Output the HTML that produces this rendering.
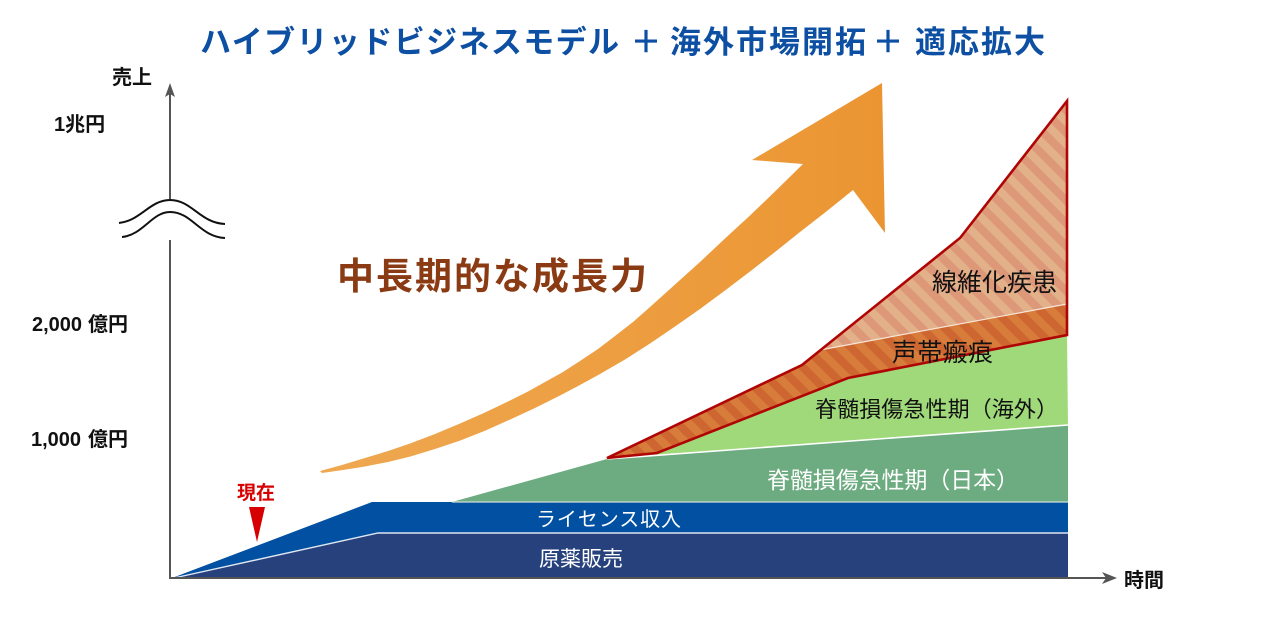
<!DOCTYPE html>
<html>
<head>
<meta charset="utf-8">
<style>
  html,body{margin:0;padding:0;background:#fff;}
  svg{display:block;}
  text{font-family:"Liberation Sans","Noto Sans CJK JP",sans-serif;}
</style>
</head>
<body>
<svg width="1272" height="626" viewBox="0 0 1272 626" xmlns="http://www.w3.org/2000/svg">
  <defs>
    <linearGradient id="arrowG" x1="320" y1="0" x2="885" y2="0" gradientUnits="userSpaceOnUse">
      <stop offset="0" stop-color="#efa851"/>
      <stop offset="1" stop-color="#eb9532"/>
    </linearGradient>
    <pattern id="stripeDark" width="16" height="16" patternUnits="userSpaceOnUse" patternTransform="rotate(-45)">
      <rect width="16" height="16" fill="#d77c3a"/>
      <rect width="8" height="16" fill="#cd6631"/>
    </pattern>
    <pattern id="stripeLight" width="16" height="16" patternUnits="userSpaceOnUse" patternTransform="rotate(-45)">
      <rect width="16" height="16" fill="#e2b189"/>
      <rect width="8" height="16" fill="#dd9779"/>
    </pattern>
  </defs>

  <rect width="1272" height="626" fill="#fff"/>

  <!-- Title -->
  <g fill="#0d4fa3" font-size="31" font-weight="bold">
    <text x="200" y="53" textLength="419" lengthAdjust="spacing">ハイブリッドビジネスモデル</text>
    <text x="646" y="53" text-anchor="middle">＋</text>
    <text x="670" y="53" textLength="196" lengthAdjust="spacing">海外市場開拓</text>
    <text x="888" y="53" text-anchor="middle">＋</text>
    <text x="915" y="53" textLength="130" lengthAdjust="spacing">適応拡大</text>
  </g>

  <!-- Orange growth arrow -->
  <polygon fill="url(#arrowG)" points="
    320,471 342,465 365,458 388,451 410,443.5 435,434 460,423.5 485,412.5 510,400.5
    528,391.5 545,382 563,372 580,361 598,349 615,336 633,322 650,307
    675,284.5 700,262 725,238.5 750,215.5 777,189.5 803,164
    752,160 882,83 885,233 853,190
    827,211 800,232 775,252 750,271.5 725,290.5 700,309 675,326.5 650,343.5
    625,359.5 600,374 580,385 560,395.5 535,408 510,419.6
    485,430.8 460,440.6 435,449 410,456.6 388,462 365,466.5 343,470 322,473"/>

  <!-- 中長期的な成長力 -->
  <text x="337" y="289" font-size="37" font-weight="bold" fill="#8b3b13" textLength="310" lengthAdjust="spacing">中長期的な成長力</text>

  <!-- Navy band: 原薬販売 -->
  <polygon fill="#26417c" points="172,578 378,533 1068,533 1068,578"/>
  <!-- Blue band: ライセンス収入 -->
  <polygon fill="#0150a1" points="172,578 372,502 1068,502 1068,533 378,533"/>
  <!-- Dark green: 日本 -->
  <polygon fill="#6dab80" points="452,502 607,459 1068,425 1068,502"/>
  <!-- Light green: 海外 -->
  <polygon fill="#a0d97a" points="607,459 657,453 848,378 1067,335 1068,425"/>
  <!-- Hatched dark orange: 声帯瘢痕 -->
  <polygon fill="url(#stripeDark)" points="607,458 802,365 820,350 1067,304 1067,335 848,378 657,453"/>
  <!-- Hatched light orange: 線維化疾患 -->
  <polygon fill="url(#stripeLight)" points="820,350 960,238 1067,101 1067,304"/>

  <!-- separator lines -->
  <polyline fill="none" stroke="#dfe6f0" stroke-width="1.4" points="174,578 378,533 1068,533"/>
  <line x1="452" y1="502" x2="1068" y2="502" stroke="#cfe0d8" stroke-width="1.2"/>
  <line x1="607" y1="459" x2="1068" y2="425" stroke="#ffffff" stroke-width="1.6"/>
  <line x1="820" y1="350" x2="1067" y2="304" stroke="#f6e6d8" stroke-width="1.2"/>

  <!-- Red outline -->
  <polygon fill="none" stroke="#b00505" stroke-width="2.6" stroke-linejoin="miter"
    points="607,458 802,365 960,238 1067,101 1067,335 848,378 657,453"/>

  <!-- Area labels -->
  <text x="932" y="291" font-size="25" fill="#111" textLength="125" lengthAdjust="spacing">線維化疾患</text>
  <text x="892" y="361" font-size="25" fill="#111" textLength="101" lengthAdjust="spacing">声帯瘢痕</text>
  <text x="815" y="417" font-size="22" fill="#111" textLength="243" lengthAdjust="spacing">脊髄損傷急性期（海外）</text>
  <text x="767" y="488" font-size="23" fill="#fff" textLength="252" lengthAdjust="spacing">脊髄損傷急性期（日本）</text>
  <text x="536" y="526" font-size="20" fill="#fff" textLength="145" lengthAdjust="spacing">ライセンス収入</text>
  <text x="539" y="566" font-size="21" fill="#fff" textLength="84" lengthAdjust="spacing">原薬販売</text>

  <!-- 現在 marker -->
  <text x="237" y="499" font-size="19" font-weight="bold" fill="#d60000">現在</text>
  <polygon fill="#d60000" points="249,507 265,507 257,542"/>

  <!-- Axes -->
  <g stroke="#555" stroke-width="2" fill="none">
    <line x1="170" y1="88" x2="170" y2="199"/>
    <line x1="170" y1="240" x2="170" y2="579"/>
    <line x1="169" y1="578" x2="1110" y2="578"/>
  </g>
  <polygon fill="#555" points="170,83 165,97 170,94 175,97"/>
  <polygon fill="#555" points="1117,578 1102,572 1106,578 1102,584"/>

  <!-- Axis break wave -->
  <path d="M119,223 C140,221 150,200 170,200 C192,200 200,223 225,224 L225,238 C200,237 192,212 170,212 C150,212 140,235 122,237 Z" fill="#fff" stroke="none"/>
  <path d="M119,223 C140,221 150,200 170,200 C192,200 200,223 225,224" fill="none" stroke="#111" stroke-width="2"/>
  <path d="M122,237 C143,235 152,212 170,212 C192,212 200,237 225,238" fill="none" stroke="#111" stroke-width="2"/>

  <!-- Axis labels -->
  <g font-weight="bold" fill="#111">
    <text x="112" y="84" font-size="20">売上</text>
    <text x="54" y="131" font-size="20">1兆円</text>
    <text x="32" y="331" font-size="20">2,000<tspan x="88">億円</tspan></text>
    <text x="31" y="446" font-size="20">1,000<tspan x="88">億円</tspan></text>
    <text x="1124" y="587" font-size="20">時間</text>
  </g>
</svg>
</body>
</html>
